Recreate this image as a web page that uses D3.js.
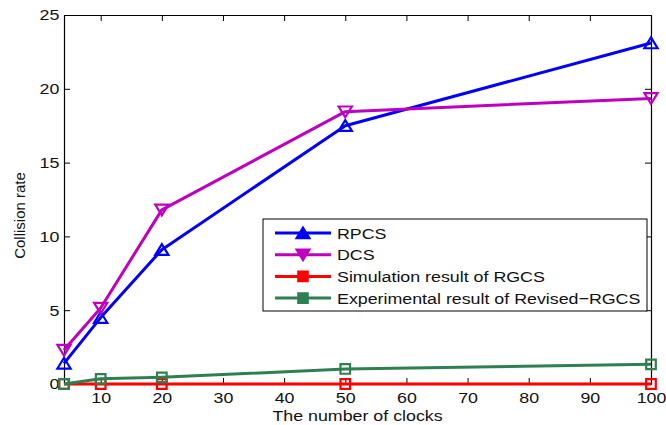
<!DOCTYPE html>
<html>
<head>
<meta charset="utf-8">
<script src="https://cdn.jsdelivr.net/npm/d3@7"></script>
<style>
  html, body { margin: 0; padding: 0; background: #fff; }
  svg { display: block; }
  text { font-family: "Liberation Sans", Arial, Helvetica, sans-serif; fill: #111; }
</style>
</head>
<body>
<svg id="chart" width="666" height="425"></svg>
<script>
// Number of clocks on the x axis
const clocks = [4, 10, 20, 50, 100];
// Collision rate for each scheme
const rpcs = [1.4, 4.5, 9.1, 17.5, 23.1];
const dcs = [2.3, 5.15, 11.8, 18.45, 19.35];
const rgcsSim = [0, 0, 0, 0, 0];
const rgcsExp = [0, 0.35, 0.45, 1.02, 1.33];

const seriesNames = ["RPCS", "DCS", "Simulation result of RGCS", "Experimental result of Revised\u2212RGCS"];
const seriesColors = ["#0000ff", "#bf00bf", "#ff0000", "#2e8052"];
const seriesMarkers = ["up", "down", "square", "square"];

const xTicks = [10, 20, 30, 40, 50, 60, 70, 80, 90, 100];
const yTicks = [0, 5, 10, 15, 20, 25];
const xDomain = [4, 100];
const yDomain = [0, 25];
const xTitle = "The number of clocks";
const yTitle = "Collision rate";

const W = 666, H = 425;
const margin = { top: 15, right: 15, bottom: 41, left: 64 };
const iw = W - margin.left - margin.right;
const ih = H - margin.top - margin.bottom;
const stretch = 1.15; // horizontal widening of the label glyphs

const svg = d3.select("#chart");
const g = svg.append("g").attr("transform", `translate(${margin.left},${margin.top})`);

const x = d3.scaleLinear().domain(xDomain).range([0, iw]);
const y = d3.scaleLinear().domain(yDomain).range([ih, 0]);

// Frame and inward ticks on all four sides
const tick = 6;
g.append("g").attr("transform", `translate(0,${ih})`)
  .call(d3.axisBottom(x).tickValues(xTicks).tickSizeInner(-tick).tickSizeOuter(0).tickPadding(8))
  .call(a => a.selectAll("text").attr("font-size", 15.5).attr("transform", `scale(${stretch},1)`));
g.append("g")
  .call(d3.axisLeft(y).tickValues(yTicks).tickSizeInner(-tick).tickSizeOuter(0).tickPadding(4))
  .call(a => a.selectAll("text").attr("font-size", 15.5).attr("transform", `scale(${stretch},1)`));
g.append("g")
  .call(d3.axisTop(x).tickValues(xTicks).tickSizeInner(-tick).tickSizeOuter(0).tickFormat(""));
g.append("g").attr("transform", `translate(${iw},0)`)
  .call(d3.axisRight(y).tickValues(yTicks).tickSizeInner(-tick).tickSizeOuter(0).tickFormat(""));
g.selectAll(".domain").attr("stroke", "#000").attr("stroke-width", 1.2);
g.selectAll(".tick line").attr("stroke", "#000").attr("stroke-width", 1);
g.selectAll(".tick text").attr("fill", "#111").attr("font-family", "Liberation Sans, Arial, sans-serif");

// Axis titles
svg.append("text")
  .attr("transform", `translate(${margin.left + iw / 2},${H - 4}) scale(${stretch},1)`)
  .attr("text-anchor", "middle")
  .attr("font-size", 15.5)
  .text(xTitle);
svg.append("text")
  .attr("transform", `translate(25,${margin.top + ih / 2 + 16}) rotate(-90)`)
  .attr("text-anchor", "middle")
  .attr("font-size", 15)
  .text(yTitle);

// Marker shapes
function markerPath(kind) {
  if (kind === "up") return "M0,-5.6L6.6,5.2L-6.6,5.2Z";
  if (kind === "down") return "M0,5.6L6.6,-5.2L-6.6,-5.2Z";
  return "M-4.8,-4.8H4.8V4.8H-4.8Z";
}

const seriesValues = [rpcs, dcs, rgcsSim, rgcsExp];
const line = d3.line().x(d => x(d[0])).y(d => y(d[1]));

seriesValues.forEach((vals, i) => {
  const pts = clocks.map((c, j) => [c, vals[j]]);
  const sg = g.append("g");
  sg.append("path").datum(pts)
    .attr("d", line)
    .attr("fill", "none")
    .attr("stroke", seriesColors[i])
    .attr("stroke-width", 3)
    .attr("stroke-linejoin", "round");
  sg.selectAll("path.mk").data(pts).join("path")
    .attr("class", "mk")
    .attr("d", markerPath(seriesMarkers[i]))
    .attr("transform", d => `translate(${x(d[0])},${y(d[1])})`)
    .attr("fill", "none")
    .attr("stroke", seriesColors[i])
    .attr("stroke-width", 2.2);
});

// Legend
const lg = svg.append("g").attr("transform", "translate(263,219)");
lg.append("rect").attr("width", 384).attr("height", 92)
  .attr("fill", "#fff").attr("stroke", "#000").attr("stroke-width", 1);
seriesNames.forEach((name, i) => {
  const ry = 14 + i * 21.7;
  lg.append("line").attr("x1", 12).attr("x2", 68).attr("y1", ry).attr("y2", ry)
    .attr("stroke", seriesColors[i]).attr("stroke-width", 3);
  lg.append("path").attr("d", markerPath(seriesMarkers[i]))
    .attr("transform", `translate(40,${ry})`)
    .attr("fill", seriesColors[i]).attr("stroke", seriesColors[i]).attr("stroke-width", 2);
  lg.append("text")
    .attr("transform", `translate(74,${ry + 5.5}) scale(${stretch},1)`)
    .attr("font-size", 15.5)
    .text(name);
});
</script>
</body>
</html>
